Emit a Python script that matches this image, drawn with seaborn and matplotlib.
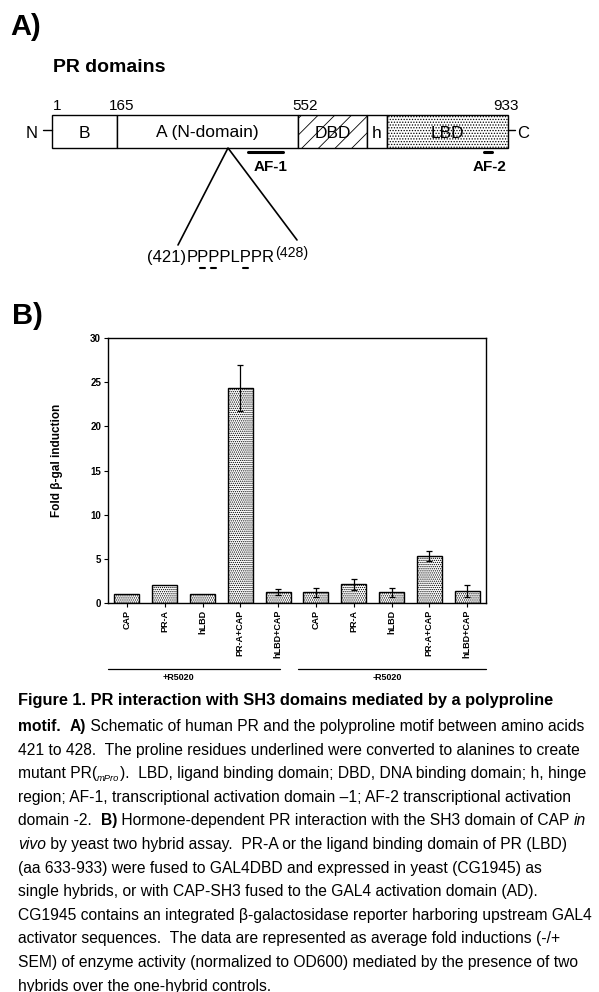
import numpy as np
import pandas as pd
import matplotlib
matplotlib.use('Agg')
import matplotlib.pyplot as plt
import seaborn as sns
from matplotlib.patches import Rectangle

# --- data ---
bar_labels = ['CAP', 'PR-A', 'hLBD', 'PR-A+CAP', 'hLBD+CAP'] * 2
fold_induction = [1.0, 2.05, 1.0, 24.3, 1.25, 1.2, 2.1, 1.2, 5.3, 1.35]
fold_sem = [0, 0, 0, 2.6, 0.3, 0.5, 0.6, 0.5, 0.6, 0.7]
hormone_groups = ['+R5020', '-R5020']

domain_names = ['B', 'A (N-domain)', 'DBD', 'h', 'LBD']
residue_marks = ['1', '165', '552', '933']
motif_seq = 'PPPPLPPR'
motif_start, motif_end = 421, 428
mutated_idx = [1, 2, 5]

caption = [
    [('Figure 1. PR interaction with SH3 domains mediated by a polyproline', 'b')],
    [('motif.', 'b'), ('  ', 'r'), ('A)', 'b'),
     (' Schematic of human PR and the polyproline motif between amino acids', 'r')],
    [('421 to 428.  The proline residues underlined were converted to alanines to create', 'r')],
    [('mutant PR(', 'r'), ('mPro', 's'),
     (').  LBD, ligand binding domain; DBD, DNA binding domain; h, hinge', 'r')],
    [('region; AF-1, transcriptional activation domain \u20131; AF-2 transcriptional activation', 'r')],
    [('domain -2.  ', 'r'), ('B)', 'b'),
     (' Hormone-dependent PR interaction with the SH3 domain of CAP ', 'r'), ('in', 'i')],
    [('vivo', 'i'), (' by yeast two hybrid assay.  PR-A or the ligand binding domain of PR (LBD)', 'r')],
    [('(aa 633-933) were fused to GAL4DBD and expressed in yeast (CG1945) as', 'r')],
    [('single hybrids, or with CAP-SH3 fused to the GAL4 activation domain (AD).', 'r')],
    [('CG1945 contains an integrated \u03b2-galactosidase reporter harboring upstream GAL4', 'r')],
    [('activator sequences.  The data are represented as average fold inductions (-/+', 'r')],
    [('SEM) of enzyme activity (normalized to OD600) mediated by the presence of two', 'r')],
    [('hybrids over the one-hybrid controls.', 'r')],
]
caption_right = [554, 592, 568, 594, 560, 596, 584, 567, 554, 595, 554, 596, 275]

# --- style ---
sns.set_style('ticks')
plt.rcParams['font.family'] = ['Liberation Sans', 'DejaVu Sans']
plt.rcParams['hatch.linewidth'] = 0.6
plt.rcParams['text.color'] = 'black'
plt.rcParams['axes.labelcolor'] = 'black'
plt.rcParams['axes.edgecolor'] = 'black'
plt.rcParams['xtick.color'] = 'black'
plt.rcParams['ytick.color'] = 'black'

fig = plt.figure(figsize=(5.99, 9.92), dpi=100)
bg = fig.add_axes([0, 0, 1, 1])
bg.set_xlim(0, 599)
bg.set_ylim(992, 0)
bg.axis('off')
renderer = fig.canvas.get_renderer()

STYLE = {'r': {}, 'b': {'fontweight': 'bold'}, 'i': {'fontstyle': 'italic'},
         's': {'fontstyle': 'italic'}}


def text_w(txt, size, **kw):
    t = bg.text(0, 0, '|' + txt + '|', fontsize=size, **kw)
    w = t.get_window_extent(renderer).width
    t.set_text('||')
    w -= t.get_window_extent(renderer).width
    t.remove()
    return w


def seg_size(kind, size):
    return size * 0.6 if kind == 's' else size


def draw_rich(x, y, segs, size):
    for txt, kind in segs:
        fs = seg_size(kind, size)
        dy = 3 if kind == 's' else 0
        bg.text(x, y + dy, txt, fontsize=fs, va='baseline', **STYLE[kind])
        x += text_w(txt, fs, **STYLE[kind])


def fit_size(segs, right, base=10.0):
    w = sum(text_w(t, seg_size(k, base), **STYLE[k]) for t, k in segs)
    return base * (right - 18) / w


# --- panel letters ---
bg.text(10, 27, 'A)', fontsize=21, fontweight='bold', va='center')
bg.text(12, 316, 'B)', fontsize=21, fontweight='bold', va='center')
bg.text(53, 68, 'PR domains', fontsize=14, fontweight='bold', va='center')

# --- schematic ---
edges = [52, 117, 298, 367, 387, 508]
fills = [None, None, '//', None, '......']
box_top, box_bot = 115, 148
for i, name in enumerate(domain_names):
    x0, x1 = edges[i], edges[i + 1]
    bg.add_patch(Rectangle((x0, box_top), x1 - x0, box_bot - box_top,
                           facecolor='white', edgecolor='black', lw=1.0,
                           hatch=fills[i]))
    bg.text((x0 + x1) / 2, 133, name, fontsize=12.5, ha='center', va='center')
for lab, xm in zip(residue_marks, [57, 122, 305, 506]):
    bg.text(xm, 106, lab, fontsize=11, ha='center', va='center')
bg.text(32, 133, 'N', fontsize=12, ha='center', va='center')
bg.plot([43, 52], [130, 130], color='black', lw=1)
bg.text(523, 133, 'C', fontsize=12, ha='center', va='center')
bg.plot([508, 515], [130, 130], color='black', lw=1)

bg.plot([248, 283], [152, 152], color='black', lw=2.2)
bg.text(271, 167, 'AF-1', fontsize=11, fontweight='bold', ha='center', va='center')
bg.plot([484, 492], [152, 152], color='black', lw=2.2)
bg.text(490, 167, 'AF-2', fontsize=11, fontweight='bold', ha='center', va='center')

bg.plot([178, 228, 297], [245, 148, 240], color='black', lw=1.2)

seq_x, seq_y, seq_fs = 147, 262, 12
left = '(%d)' % motif_start
bg.text(seq_x, seq_y, left, fontsize=seq_fs, va='baseline')
x_seq = seq_x + text_w(left, seq_fs)
bg.text(x_seq, seq_y, motif_seq, fontsize=seq_fs, va='baseline')
x_end = x_seq + text_w(motif_seq, seq_fs)
bg.text(x_end + 1, seq_y - 5, '(%d)' % motif_end, fontsize=seq_fs * 0.85, va='baseline')
for k in mutated_idx:
    xc = x_seq + text_w(motif_seq[:k], seq_fs) + text_w(motif_seq[k], seq_fs) / 2
    bg.plot([xc - 2.5, xc + 2.5], [268, 268], color='black', lw=1.5)

# --- bar chart ---
ax = fig.add_axes([108 / 599, 1 - 603 / 992, 378 / 599, 265 / 992])
df = pd.DataFrame({'pos': np.arange(len(fold_induction)), 'fold': fold_induction,
                   'sem': fold_sem})
sns.barplot(data=df, x='pos', y='fold', color='white', saturation=1, width=0.66,
            edgecolor='black', linewidth=1.0, errorbar=None, ax=ax)
for p in ax.patches:
    p.set_hatch('........')
m = df['sem'] > 0
ax.errorbar(df.loc[m, 'pos'], df.loc[m, 'fold'], yerr=df.loc[m, 'sem'], fmt='none',
            ecolor='black', elinewidth=0.9, capsize=2.5, capthick=0.9)
ax.set_xlim(-0.5, len(fold_induction) - 0.5)
ax.set_ylim(0, 30)
ax.set_yticks(range(0, 31, 5))
ax.set_yticklabels([str(v) for v in range(0, 31, 5)], fontweight='bold', fontsize=7)
ax.set_xticks(df['pos'])
ax.set_xticklabels(bar_labels, rotation=90, fontweight='bold', fontsize=6.5, va='top')
ax.tick_params(axis='both', length=3, width=0.8, direction='out', pad=2)
ax.set_xlabel('')
ax.set_ylabel('Fold \u03b2-gal induction', fontweight='bold', fontsize=8.5)
ax.yaxis.set_label_coords(-0.119, 0.54)
for s in ax.spines.values():
    s.set_linewidth(1.0)
    s.set_color('black')

# hormone group lines
for (x0, x1, xt), lab in zip([(108, 280, 178), (298, 486, 387)], hormone_groups):
    bg.plot([x0, x1], [669, 669], color='black', lw=0.9)
    bg.text(xt, 678, lab, fontsize=6.5, fontweight='bold', ha='center', va='center')

# --- caption: one body size, the largest that keeps the full-width lines inside ---
full_lines = [1, 3, 5, 9, 11]
body = min(fit_size(caption[i], caption_right[i]) for i in full_lines)
head = fit_size(caption[0], caption_right[0])
baselines = [705] + [731 + 23.6 * i for i in range(len(caption) - 1)]
for i, (segs, yb) in enumerate(zip(caption, baselines)):
    draw_rich(18, yb, segs, head if i == 0 else body)

fig.savefig('out.png', dpi=100)
